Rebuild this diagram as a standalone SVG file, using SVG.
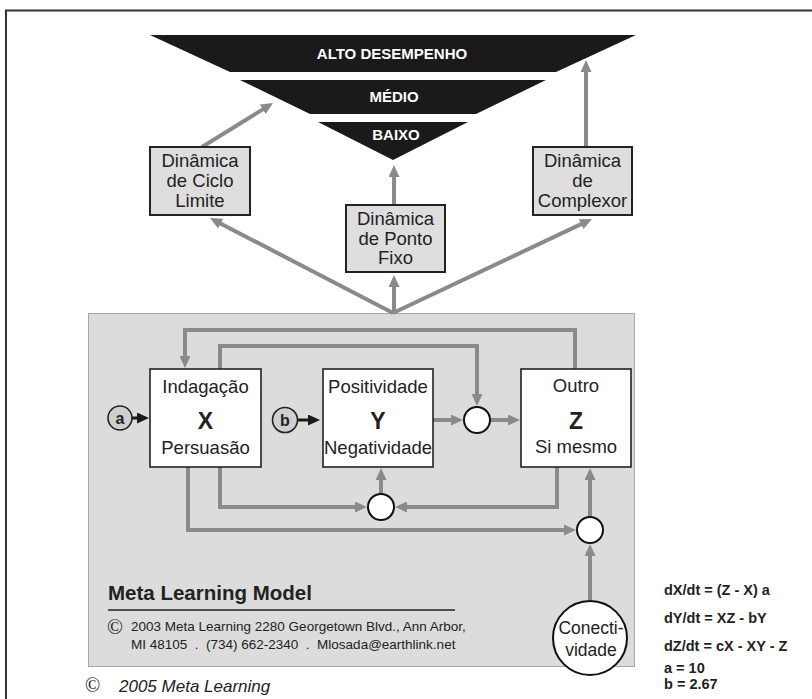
<svg xmlns="http://www.w3.org/2000/svg" width="812" height="699" viewBox="0 0 812 699">
<style>
.conn{fill:none;stroke:#8a8a8a;stroke-width:4}
.blk{fill:none;stroke:#1a1a1a;stroke-width:3}
.dbox{fill:#dedede;stroke:#222;stroke-width:2}
.wbox{fill:#fff;stroke:#222;stroke-width:1.6}
.sc{fill:#fff;stroke:#111;stroke-width:2}
.t{font-family:"Liberation Sans",Arial,sans-serif;fill:#222}
.d{font-size:18.5px;text-anchor:middle}
.big{font-size:23px;font-weight:bold;text-anchor:middle}
.band{font-family:"Liberation Sans",Arial,sans-serif;font-size:15px;font-weight:bold;fill:#fff;text-anchor:middle}
.eq{font-family:"Liberation Sans",Arial,sans-serif;font-size:14.5px;font-weight:bold;fill:#222}
.cs{font-family:"Liberation Serif","Times New Roman",serif;fill:#222}
</style>
<defs>
<marker id="ag" viewBox="0 0 12 11" refX="4" refY="5.5" markerWidth="12" markerHeight="11" markerUnits="userSpaceOnUse" orient="auto"><path d="M0,0 L12,5.5 L0,11 z" fill="#8a8a8a"/></marker>
<marker id="ab" viewBox="0 0 12 11" refX="4" refY="5.5" markerWidth="12" markerHeight="11" markerUnits="userSpaceOnUse" orient="auto"><path d="M0,0 L12,5.5 L0,11 z" fill="#1a1a1a"/></marker>
</defs>
<rect x="0" y="0" width="812" height="699" fill="#fff"/>
<rect x="6" y="10.5" width="900" height="800" fill="none" stroke="#333" stroke-width="2"/>

<g id="panel">
<rect x="88.5" y="313.5" width="546" height="353" fill="#dcdcdc" stroke="#a8a8a8" stroke-width="1"/>
</g>

<g id="funnel">
<polygon points="150,35 636,35 556,72 230,72" fill="#1a1a1a"/>
<polygon points="240,80 546,80 476,114 310,114" fill="#1a1a1a"/>
<polygon points="318,122 468,122 393,160" fill="#1a1a1a"/>
<text class="band" x="392" y="59">ALTO DESEMPENHO</text>
<text class="band" x="394" y="102">MÉDIO</text>
<text class="band" x="396" y="140">BAIXO</text>
</g>

<g id="connectors">
<line class="conn" x1="202" y1="147" x2="266.2" y2="107.2" marker-end="url(#ag)"/>
<line class="conn" x1="394" y1="205" x2="394" y2="173" marker-end="url(#ag)"/>
<line class="conn" x1="586" y1="147" x2="586" y2="68" marker-end="url(#ag)"/>
<line class="conn" x1="393" y1="313" x2="217.1" y2="221.7" marker-end="url(#ag)"/>
<line class="conn" x1="394" y1="313" x2="394" y2="283" marker-end="url(#ag)"/>
<line class="conn" x1="393" y1="313" x2="584.8" y2="222.4" marker-end="url(#ag)"/>
<path class="conn" d="M575,369 V330 H185 V360" marker-end="url(#ag)"/>
<path class="conn" d="M220,369 V346 H477 V398" marker-end="url(#ag)"/>
<path class="conn" d="M433,420 H455" marker-end="url(#ag)"/>
<path class="conn" d="M490,420 H512" marker-end="url(#ag)"/>
<path class="conn" d="M220,467 V507 H359" marker-end="url(#ag)"/>
<path class="conn" d="M557,467 V507 H403" marker-end="url(#ag)"/>
<path class="conn" d="M381,494 V476" marker-end="url(#ag)"/>
<path class="conn" d="M188,467 V530 H568" marker-end="url(#ag)"/>
<path class="conn" d="M590,517 V476" marker-end="url(#ag)"/>
<path class="conn" d="M590,600 V552" marker-end="url(#ag)"/>
<path class="blk" d="M132,418 H141" marker-end="url(#ab)"/>
<path class="blk" d="M298,420 H312" marker-end="url(#ab)"/>
</g>

<g id="ciclo">
<rect class="dbox" x="150" y="147" width="100" height="68"/>
<text class="t d" x="200" y="167">Dinâmica</text>
<text class="t d" x="200" y="187">de Ciclo</text>
<text class="t d" x="200" y="207">Limite</text>
</g>
<g id="ponto">
<rect class="dbox" x="346" y="205" width="99" height="67"/>
<text class="t d" x="395.5" y="225">Dinâmica</text>
<text class="t d" x="395.5" y="245">de Ponto</text>
<text class="t d" x="395.5" y="264">Fixo</text>
</g>
<g id="complexor">
<rect class="dbox" x="533" y="147" width="99" height="68"/>
<text class="t d" x="582.5" y="167">Dinâmica</text>
<text class="t d" x="582.5" y="187">de</text>
<text class="t d" x="582.5" y="207">Complexor</text>
</g>

<g id="nodeX">
<rect class="wbox" x="150" y="369" width="111" height="98"/>
<text class="t d" x="205.5" y="393">Indagação</text>
<text class="t big" x="205.5" y="429">X</text>
<text class="t d" x="205.5" y="454">Persuasão</text>
</g>
<g id="nodeY">
<rect class="wbox" x="323" y="369" width="110" height="98"/>
<text class="t d" x="378" y="393">Positividade</text>
<text class="t big" x="378" y="429">Y</text>
<text class="t d" x="378" y="454">Negatividade</text>
</g>
<g id="nodeZ">
<rect class="wbox" x="521" y="369" width="110" height="98"/>
<text class="t d" x="576" y="392">Outro</text>
<text class="t big" x="576" y="429">Z</text>
<text class="t d" x="576" y="453">Si mesmo</text>
</g>

<g id="inputA">
<circle cx="120" cy="418" r="12" fill="#cfcfcf" stroke="#222" stroke-width="1.6"/>
<text class="t" x="120" y="423.5" font-size="16" font-weight="bold" text-anchor="middle">a</text>
</g>
<g id="inputB">
<circle cx="285" cy="420" r="12.5" fill="#cfcfcf" stroke="#222" stroke-width="1.6"/>
<text class="t" x="285" y="425.5" font-size="16" font-weight="bold" text-anchor="middle">b</text>
</g>

<g id="sum1"><circle class="sc" cx="477" cy="420" r="13"/></g>
<g id="sum2"><circle class="sc" cx="381" cy="507" r="13"/></g>
<g id="sum3"><circle class="sc" cx="590" cy="530" r="13"/></g>

<g id="conectividade">
<circle class="sc" cx="590" cy="638" r="37"/>
<text class="t" x="591" y="634" font-size="17.5" text-anchor="middle">Conecti-</text>
<text class="t" x="591" y="656" font-size="17.5" text-anchor="middle">vidade</text>
</g>

<g id="title">
<text class="t" x="108" y="600" font-size="20.5" font-weight="bold">Meta Learning Model</text>
<line x1="108" y1="610" x2="455" y2="610" stroke="#222" stroke-width="1.5"/>
<text class="cs" x="107" y="634" font-size="21">©</text>
<text class="t" x="131" y="631" font-size="13.5">2003 Meta Learning 2280 Georgetown Blvd., Ann Arbor,</text>
<text class="t" x="131" y="649" font-size="13.5" xml:space="preserve">MI 48105  .  (734) 662-2340  .  Mlosada@earthlink.net</text>
</g>

<g id="equations">
<text class="eq" x="664" y="595">dX/dt = (Z - X) a</text>
<text class="eq" x="664" y="623">dY/dt = XZ - bY</text>
<text class="eq" x="664" y="651">dZ/dt = cX - XY - Z</text>
<text class="eq" x="664" y="673" font-size="14">a = 10</text>
<text class="eq" x="664" y="689" font-size="14">b = 2.67</text>
</g>

<g id="footer">
<text class="cs" x="85" y="692" font-size="20">©</text>
<text class="t" x="119" y="692" font-size="17" font-style="italic">2005 Meta Learning</text>
</g>
</svg>
